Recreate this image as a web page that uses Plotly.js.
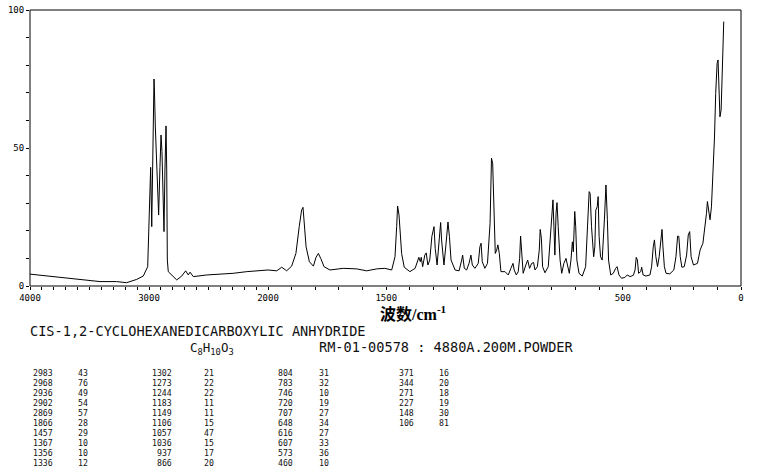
<!DOCTYPE html>
<html><head><meta charset="utf-8">
<script src="https://cdn.plot.ly/plotly-3.0.1.min.js"></script>
<style>html,body{margin:0;padding:0;background:#fff}#chart{width:758px;height:472px}</style>
</head><body><div id="chart"></div>
<script>
// Raman spectrum (wavenumber cm-1, relative intensity)
const wavenumber = [
 4000,3832,3692,3552,3412,3272,3188,3103,3048,3011,3000,2986,2977,2970,2966,2958,2955,2947,2939,2930,2919,2908,2899,2891,2882,2874,2866,2857,2851,2846,2838,2809,2767,2725,2692,2670,2655,2628,2515,2403,2292,2179,2067,2000,
 1963,1942,1921,1900,1882,1868,1858,1852,1847,1839,1825,1808,1797,1787,1777,1763,1738,1682,1625,1583,1540,1506,1477,1463,1456,1452,1446,1441,1435,1424,1400,1378,1367,1362,1356,1352,1346,1337,1331,1324,1316,1307,1298,1293,1285,1277,1270,1266,1256,1247,1239,1233,1226,1209,1192,1181,1177,1170,1160,1150,1142,1136,1125,1111,1104,1099,1094,1083,1072,1061,1055,1050,1045,1039,1033,1028,1022,1015,
 998,984,973,964,959,950,942,936,932,927,921,910,902,894,885,877,871,861,853,849,844,839,829,815,805,799,795,791,787,782,778,773,765,758,749,740,733,726,719,713,709,703,699,694,685,671,657,649,642,638,632,623,618,614,608,604,600,594,587,577,571,565,560,551,540,530,524,516,505,491,481,469,455,448,443,438,433,424,420,414,402,385,378,371,366,360,353,346,339,334,330,324,317,301,284,275,268,263,257,250,240,230,223,217,211,201,184,173,161,153,146,142,136,131,125,119,112,107,101,97,93,89,84,80,76,73
];
const intensity = [
 4.3,3.6,2.8,2.2,1.6,1.6,1.2,2.4,3.6,7,20,43,21.5,38,43,75,72,58,50,41,25.7,43,54.7,48.7,31,19.7,42,58,42,9.4,5.2,4,2.2,3.6,5.5,4,5,3.4,4,4.3,4.6,5.2,5.5,5.8,
 5.5,6.8,5.5,7.2,11.8,21.5,27.5,28.5,21.5,14.2,8.8,7.2,10.4,11.8,10,7,5.8,6.4,6.2,5.5,6.2,6.4,5.8,10.6,21.5,29,25.7,20.3,11.8,6.8,5.2,6.4,9.4,10.4,8.8,10.4,7,11.2,12,7.6,9.4,18,21.5,13.6,7.6,16.7,23,16.7,7.6,15.5,23.2,18,9.4,5.8,5.5,9.4,11.2,6.4,5.8,8.2,11.2,7.6,6.4,8.2,14.2,15.5,8.8,6.4,8.2,22.7,46.3,44.4,28.7,11.8,13,14.9,11.8,5.2,
 5.2,4,6.4,8.2,5.8,4,5.2,10,18.1,11.8,4.6,7.6,9.4,6.4,8.2,8.5,5.8,7,13,20.5,17.3,7,4.8,7,18,24.5,31.2,21.5,11.2,26.3,30.2,21.5,9.4,4.6,8.2,10,7,4.6,9.4,16,12.4,27,21.5,9.4,4.6,3.6,7,24,34.2,33.6,21.5,10.6,14.2,27.5,28.7,32.4,18,10.6,9.4,25,36.6,24,9.4,4,4.6,6.4,7,4,2.8,3.1,4,3.4,3.9,5.8,10.4,9.4,4.6,5.2,6.8,4,3.6,4,7,14.2,16.7,10.6,7,10.6,18,20.5,14.2,7,4.6,4.4,5.8,10.6,18.1,18,10.6,6.8,7,11.2,18.5,19.7,10.6,7.6,8.2,13,15.5,20.3,26.3,30.6,27.5,24,28.7,39.6,54,69.8,80.7,81.9,69.8,61.3,63.8,75.8,85.5,95.8
];
const xTickLabels = ["4000","3000","2000","1500","500","0"];
const yTickLabels = ["0","50","100"];
const compoundName = "CIS-1,2-CYCLOHEXANEDICARBOXYLIC ANHYDRIDE";
const formula = "C<sub>8</sub>H<sub>10</sub>O<sub>3</sub>";
const sampleInfo = "RM-01-00578 : 4880A.200M.POWDER";
const xAxisTitle = "<b>波数/cm<sup>-1</sup></b>";
const peakWavenumbers = [
 ["2983","2968","2936","2902","2869","1866","1457","1367","1356","1336"],
 ["1302","1273","1244","1183","1149","1106","1057","1036","937","866"],
 ["804","783","746","720","707","648","616","607","573","460"],
 ["371","344","271","227","148","106"]
];
const peakIntensities = [
 ["43","76","49","54","57","28","29","10","10","12"],
 ["21","22","22","11","11","15","47","15","17","20"],
 ["31","32","10","19","27","34","27","33","36","10"],
 ["16","20","18","19","30","81"]
];

// split spectrum at 2000 cm-1 (the reference uses a 2x compressed scale above 2000)
const upX=[],upY=[],loX=[],loY=[];
wavenumber.forEach((w,i)=>{
  if(w>=2000){upX.push(w);upY.push(intensity[i]);}
  if(w<=2000){loX.push(w);loY.push(intensity[i]);}
});

const line = {color:'#000', width:1};
const traces = [
  {x:upX, y:upY, xaxis:'x', yaxis:'y', mode:'lines', line:line, hoverinfo:'skip'},
  {x:loX, y:loY, xaxis:'x2', yaxis:'y', mode:'lines', line:line, hoverinfo:'skip'}
];

const tickFont = {family:'DejaVu Sans Mono, monospace', size:9, color:'#000'};
const axBase = {showgrid:false, zeroline:false, showline:false, ticks:'outside', ticklen:3, tickwidth:1, tickcolor:'#000', tickfont:tickFont, tickmode:'array', fixedrange:true};
const minorX = {dtick:100, tick0:0, ticks:'outside', ticklen:3, tickwidth:1, tickcolor:'#000', showgrid:false};
const minorY = {dtick:10, tick0:0, ticks:'outside', ticklen:3, tickwidth:1, tickcolor:'#000', showgrid:false};

// plot box in page pixels
const PL=30, PR=741, PT=10, PB=286;
const fx = x => (x-PL)/(PR-PL);
const fy = y => (PB-y)/(PB-PT);
const dSplit = fx(268); // 2000 cm-1 sits here; above it the scale is compressed 2x

const ann = [];
const monoBig = {family:'DejaVu Sans Mono, monospace', size:13.6, color:'#111'};
const monoSmall = {family:'DejaVu Sans Mono, monospace', size:8.2, color:'#111'};
ann.push({text:xAxisTitle, x:fx(414), y:fy(313), xanchor:'center', yanchor:'middle', font:{family:'Liberation Serif, Noto Sans CJK SC, serif', size:16, color:'#000'}});
ann.push({text:compoundName, x:fx(29), y:fy(330.5), xanchor:'left', yanchor:'middle', font:monoBig});
ann.push({text:formula, x:fx(189), y:fy(338.5), xanchor:'left', yanchor:'top', font:{family:'DejaVu Sans Mono, monospace', size:12.5, color:'#111'}});
ann.push({text:sampleInfo, x:fx(318), y:fy(347), xanchor:'left', yanchor:'middle', font:monoBig});
const waveRight=[54,173,294,415], intLeft=[77,203,318,438];
peakWavenumbers.forEach((col,c)=>{
  col.forEach((w,r)=>{
    const yy = fy(373 + r*10);
    ann.push({text:w, x:fx(waveRight[c]), y:yy, xanchor:'right', yanchor:'middle', font:monoSmall});
    ann.push({text:peakIntensities[c][r], x:fx(intLeft[c]), y:yy, xanchor:'left', yanchor:'middle', font:monoSmall});
  });
});
ann.forEach(a=>{a.xref='paper'; a.yref='paper'; a.showarrow=false; a.borderpad=0;});

const layout = {
  width:758, height:472,
  margin:{l:PL, r:758-PR, t:PT, b:472-PB},
  paper_bgcolor:'#fff', plot_bgcolor:'#fff', showlegend:false,
  xaxis:Object.assign({}, axBase, {domain:[0,dSplit], range:[4000,2000], anchor:'y', tickvals:[4000,3000,2000], ticktext:xTickLabels.slice(0,3), minor:minorX}),
  xaxis2:Object.assign({}, axBase, {domain:[dSplit,1], range:[2000,0], anchor:'y', tickvals:[1500,500,0], ticktext:xTickLabels.slice(3), minor:minorX}),
  yaxis:Object.assign({}, axBase, {range:[0,100], anchor:'x', tickvals:[0,50,100], ticktext:yTickLabels, minor:minorY}),
  shapes:[{type:'rect', xref:'paper', yref:'paper', x0:0, x1:1, y0:0, y1:1, line:{color:'#000', width:1}}],
  annotations:ann
};
Plotly.newPlot('chart', traces, layout, {staticPlot:true, displayModeBar:false});
</script></body></html>
